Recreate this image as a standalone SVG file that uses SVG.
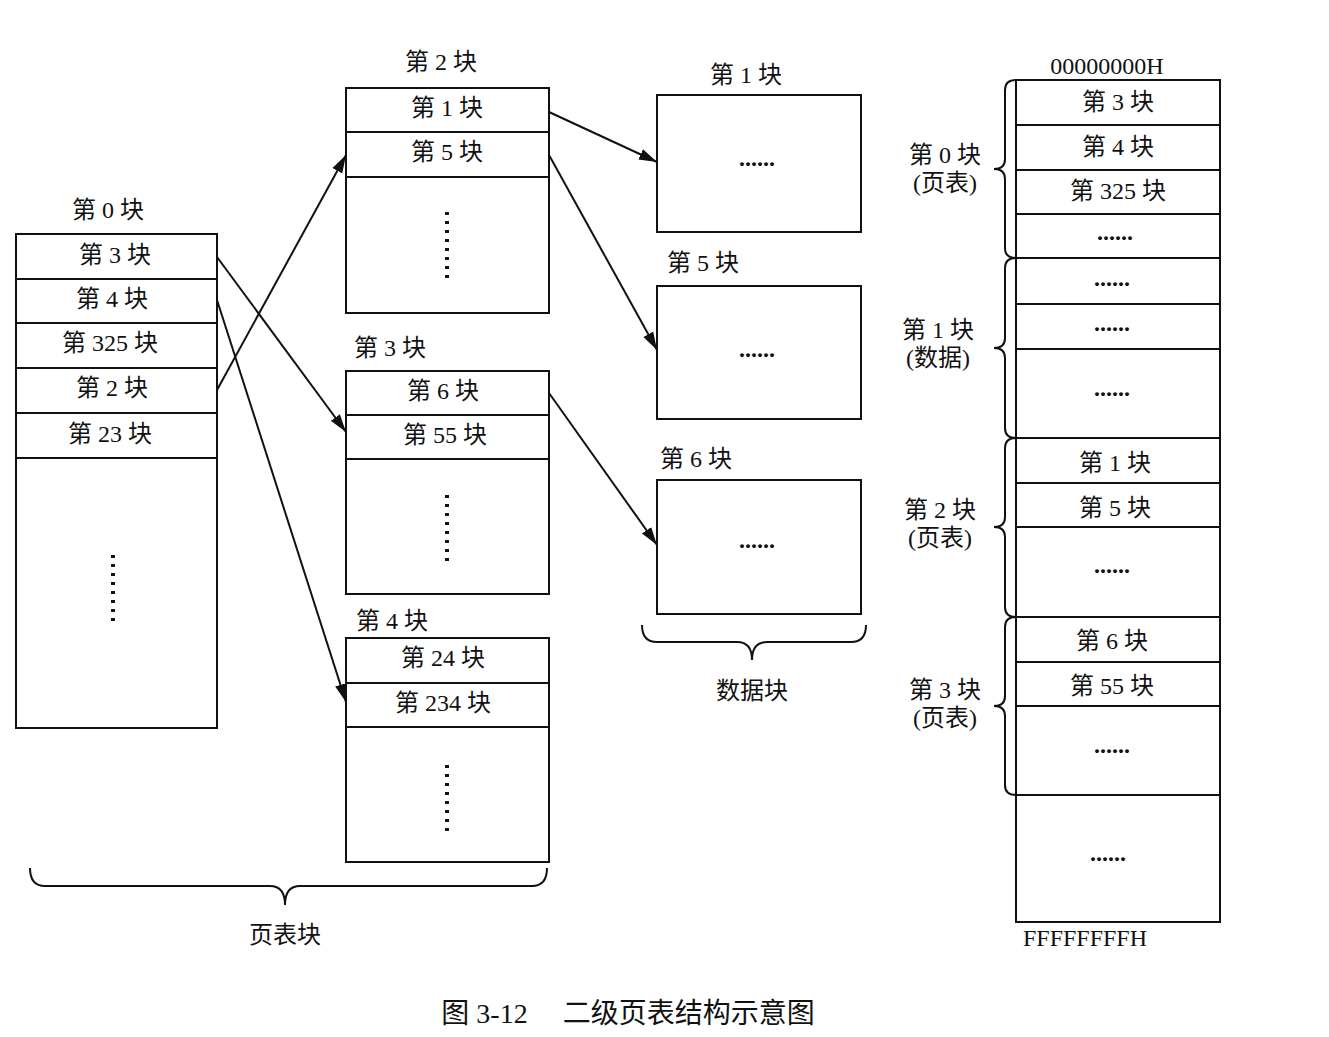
<svg xmlns="http://www.w3.org/2000/svg" width="1329" height="1037" viewBox="0 0 1329 1037">
<style>
text{font-family:"Liberation Serif","Noto Sans CJK SC",serif;font-size:24px;fill:#111;text-anchor:middle;dominant-baseline:middle}
.e{font-weight:bold}
.b{fill:#fff;stroke:#111;stroke-width:2}
.l{stroke:#111;stroke-width:2;fill:none}
.d{stroke:#111;stroke-width:4;stroke-dasharray:3 6;fill:none}
</style>
<defs><marker id="a" viewBox="0 0 10 10" refX="10" refY="5" markerWidth="18" markerHeight="14" orient="auto" markerUnits="userSpaceOnUse" preserveAspectRatio="none"><path d="M0,1L10,5L0,9z" fill="#111"/></marker></defs>
<rect width="1329" height="1037" fill="#fff"/>
<g id="blk0">
<text x="108" y="212">第 0 块</text>
<rect class="b" x="16" y="234" width="201" height="494"/>
<path class="l" d="M16,279H217M16,323H217M16,368H217M16,413H217M16,458H217"/>
<text x="115" y="257">第 3 块</text><text x="112" y="301">第 4 块</text><text x="110" y="345">第 325 块</text><text x="112" y="390">第 2 块</text><text x="110" y="436">第 23 块</text>
<path class="d" d="M113,555V622"/>
</g>
<g id="blk2">
<text x="441" y="64">第 2 块</text>
<rect class="b" x="346" y="88" width="203" height="225"/>
<path class="l" d="M346,132H549M346,177H549"/>
<text x="447" y="110">第 1 块</text><text x="447" y="154">第 5 块</text>
<path class="d" d="M447,212V282"/>
</g>
<g id="blk3">
<text x="390" y="350">第 3 块</text>
<rect class="b" x="346" y="371" width="203" height="223"/>
<path class="l" d="M346,415H549M346,459H549"/>
<text x="443" y="393">第 6 块</text><text x="445" y="437">第 55 块</text>
<path class="d" d="M447,495V562"/>
</g>
<g id="blk4">
<text x="392" y="623">第 4 块</text>
<rect class="b" x="346" y="638" width="203" height="224"/>
<path class="l" d="M346,683H549M346,727H549"/>
<text x="443" y="660">第 24 块</text><text x="443" y="705">第 234 块</text>
<path class="d" d="M447,765V832"/>
</g>
<g id="data1"><text x="746" y="77">第 1 块</text><rect class="b" x="657" y="95" width="204" height="137"/><text class="e" x="757" y="160">......</text></g>
<g id="data5"><text x="703" y="265">第 5 块</text><rect class="b" x="657" y="286" width="204" height="133"/><text class="e" x="757" y="351">......</text></g>
<g id="data6"><text x="696" y="461">第 6 块</text><rect class="b" x="657" y="480" width="204" height="134"/><text class="e" x="757" y="542">......</text></g>
<g id="braces">
<path class="l" d="M642,625Q642,642 657,642L737,642Q752,642 752,660Q752,642 767,642L851,642Q866,642 866,625"/>
<text x="752" y="693">数据块</text>
<path class="l" d="M30,868Q30,886 45,886L270,886Q285,886 285,905Q285,886 300,886L532,886Q547,886 547,868"/>
<text x="285" y="937">页表块</text>
</g>
<g id="memory">
<text x="1107" y="68">00000000H</text>
<rect class="b" x="1016" y="80" width="204" height="842"/>
<path class="l" d="M1016,125H1220M1016,170H1220M1016,214H1220M1016,258H1220M1016,304H1220M1016,349H1220M1016,438H1220M1016,483H1220M1016,527H1220M1016,617H1220M1016,662H1220M1016,706H1220M1016,795H1220"/>
<text x="1118" y="104">第 3 块</text><text x="1118" y="149">第 4 块</text><text x="1118" y="193">第 325 块</text><text class="e" x="1115" y="234">......</text>
<text class="e" x="1112" y="280">......</text><text class="e" x="1112" y="325">......</text><text class="e" x="1112" y="390">......</text>
<text x="1115" y="465">第 1 块</text><text x="1115" y="510">第 5 块</text><text class="e" x="1112" y="567">......</text>
<text x="1112" y="643">第 6 块</text><text x="1112" y="688">第 55 块</text><text class="e" x="1112" y="747">......</text>
<text class="e" x="1108" y="855">......</text>
<text x="1085" y="940">FFFFFFFFH</text>
<path class="l" d="M1016,80Q1005,80 1005,90L1005,159Q1005,169 994,169Q1005,169 1005,179L1005,248Q1005,258 1016,258"/>
<path class="l" d="M1016,258Q1005,258 1005,268L1005,338Q1005,348 994,348Q1005,348 1005,358L1005,428Q1005,438 1016,438"/>
<path class="l" d="M1016,438Q1005,438 1005,448L1005,517Q1005,527 994,527Q1005,527 1005,537L1005,607Q1005,617 1016,617"/>
<path class="l" d="M1016,617Q1005,617 1005,627L1005,696Q1005,706 994,706Q1005,706 1005,716L1005,785Q1005,795 1016,795"/>
<text x="945" y="157">第 0 块</text><text x="945" y="185">(页表)</text>
<text x="938" y="332">第 1 块</text><text x="938" y="360">(数据)</text>
<text x="940" y="512">第 2 块</text><text x="940" y="540">(页表)</text>
<text x="945" y="692">第 3 块</text><text x="945" y="720">(页表)</text>
</g>
<g id="connectors">
<path class="l" marker-end="url(#a)" d="M217,257L346,432"/>
<path class="l" marker-end="url(#a)" d="M217,300L346,702"/>
<path class="l" marker-end="url(#a)" d="M217,390L346,155"/>
<path class="l" marker-end="url(#a)" d="M549,112L657,162"/>
<path class="l" marker-end="url(#a)" d="M549,155L657,350"/>
<path class="l" marker-end="url(#a)" d="M549,393L657,545"/>
</g>
<text x="628" y="1017" style="font-size:28px">图 3-12　 二级页表结构示意图</text>
</svg>
